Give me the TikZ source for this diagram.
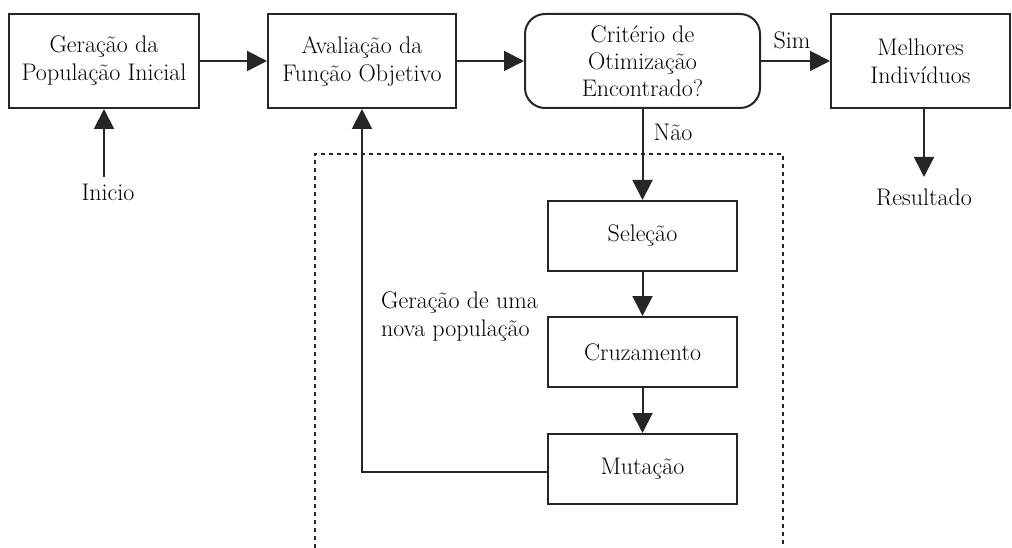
\documentclass[tikz,border=0pt]{standalone}
\usepackage{fontspec}
\usetikzlibrary{arrows.meta}
\begin{document}
\begin{tikzpicture}[x=1pt,y=-1pt,
  every node/.style={font=\fontsize{24}{28}\selectfont},
  box/.style={draw=black!85,line width=2pt,inner sep=0pt,align=center},
  rbox/.style={box,rounded corners=20pt},
  conn/.style={line width=2pt,draw=black!85,-{Triangle[length=20pt,width=20pt]}},
  lbl/.style={inner sep=0pt,align=left}]
\useasboundingbox (0,0) rectangle (1012,548);
\node[box,minimum width=190pt,minimum height=94pt] (ger) at (104,61) {Geração da\\População Inicial};
\node[box,minimum width=188pt,minimum height=94pt] (ava) at (362,61) {Avaliação da\\Função Objetivo};
\node[rbox,minimum width=235pt,minimum height=94pt] (cri) at (642.5,61) {Critério de\\[-1pt]Otimização\\[-1pt]Encontrado?};
\node[box,minimum width=179pt,minimum height=94pt] (mel) at (920.5,61) {Melhores\\Indivíduos};
\node[box,minimum width=189pt,minimum height=70pt] (sel) at (642.5,236) {Seleção};
\node[box,minimum width=189pt,minimum height=70pt] (cru) at (642.5,352) {Cruzamento};
\node[box,minimum width=189pt,minimum height=70pt] (mut) at (642.5,469) {Mutação};
\node[lbl] (ini) at (108,192) {Inicio};
\node[lbl] (res) at (924,197) {Resultado};
\node[lbl] (sim) at (792,40) {Sim};
\node[lbl] (nao) at (673,132) {Não};
\node[lbl,anchor=north west] (nova) at (381,292) {Geração de uma\\nova população};
\coordinate (iniTop) at (104,177);
\coordinate (resTop) at (924,177);
\coordinate (corner) at (362,472);
\draw[line width=1.6pt,draw=black!85,dash pattern=on 4pt off 4pt] (315,548) -- (315,154) -- (783,154) -- (783,548);
\draw[conn] (iniTop) -- (ger.south);
\draw[conn] (ger) -- (ava);
\draw[conn] (ava) -- (cri);
\draw[conn] (cri) -- (mel);
\draw[conn] (cri) -- (sel);
\draw[conn] (sel) -- (cru);
\draw[conn] (cru) -- (mut);
\draw[conn] (mel.south -| resTop) -- (resTop);
\draw[conn] (mut.west |- corner) -- (corner) -- (ava.south);
\end{tikzpicture}
\end{document}
